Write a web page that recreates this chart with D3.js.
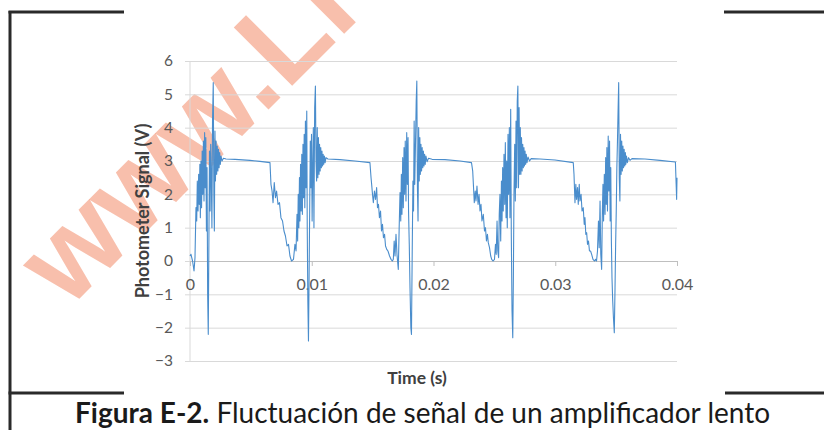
<!DOCTYPE html>
<html>
<head>
<meta charset="utf-8">
<script src="https://cdn.jsdelivr.net/npm/d3@7"></script>
<style>
  html, body { margin: 0; padding: 0; background: #fff; }
  svg { display: block; }
</style>
</head>
<body>
<script>
// ---- Data (time in ms, signal in V) ----
const cycle1 = [[0,0.15],[0.08,0.2],[0.21,0.0],[0.33,-0.3],[0.41,0.1],[0.49,1.6],[0.55,1.2],[0.60,2.4],[0.66,1.5],[0.71,2.6],[0.76,1.7],[0.81,2.9],[0.85,1.3],[0.90,3.0],[0.95,1.6],[1.00,3.3],[1.05,2.0],[1.10,3.6],[1.15,1.8],[1.20,3.85],[1.25,2.2],[1.30,3.7],[1.35,0.9],[1.40,2.8],[1.45,-1.0],[1.50,-2.2],[1.55,0.5],[1.60,3.3],[1.65,1.5],[1.70,3.5],[1.75,2.5],[1.80,1.0],[1.85,4.2],[1.91,5.35],[1.96,2.0],[2.00,0.9],[2.05,3.9],[2.09,2.4],[2.14,3.6],[2.19,2.6],[2.24,3.45],[2.29,2.7],[2.34,3.35],[2.39,2.8],[2.44,3.25],[2.49,2.9],[2.55,3.15],[2.63,3.0],[2.75,3.08],[2.96,3.06],[3.70,3.05],[4.93,3.02],[5.75,2.99],[6.57,2.95],[6.65,2.3],[6.74,2.1],[6.82,1.75],[6.92,2.35],[7.02,1.9],[7.11,2.1],[7.23,1.7],[7.35,1.75],[7.47,1.3],[7.60,1.2],[7.72,0.9],[7.84,0.75],[7.97,0.45],[8.09,0.5],[8.21,0.15],[8.34,0.0],[8.50,0.05],[8.62,0.5]];
const cycle2 = [[8.71,0.3],[8.79,1.4],[8.84,0.6],[8.89,2.0],[8.94,1.0],[8.99,2.5],[9.03,1.2],[9.08,2.9],[9.13,1.5],[9.18,3.2],[9.23,1.4],[9.28,3.5],[9.33,1.9],[9.38,3.8],[9.43,1.6],[9.48,4.2],[9.53,2.2],[9.59,4.5],[9.63,1.0],[9.68,-1.2],[9.73,-2.4],[9.78,-0.5],[9.83,1.5],[9.88,3.6],[9.93,2.2],[9.98,3.8],[10.03,1.2],[10.08,2.8],[10.13,4.0],[10.18,1.0],[10.24,4.6],[10.30,5.25],[10.35,3.0],[10.40,2.4],[10.45,4.0],[10.50,2.5],[10.55,3.7],[10.60,2.6],[10.64,3.5],[10.69,2.7],[10.74,3.4],[10.79,2.8],[10.84,3.3],[10.89,2.85],[10.94,3.2],[10.99,2.9],[11.04,3.15],[11.10,2.95],[11.17,3.1],[11.33,3.06],[12.32,3.04],[13.55,3.0],[14.78,2.95],[14.87,2.5],[14.92,2.3],[14.99,2.0],[15.06,1.75],[15.15,2.1],[15.24,1.85],[15.33,2.2],[15.40,1.6],[15.48,1.7],[15.56,1.3],[15.65,1.5],[15.73,0.9],[15.81,1.1],[15.89,0.7],[15.98,0.8],[16.06,0.45],[16.16,0.35],[16.26,0.3],[16.39,0.15],[16.51,0.05],[16.62,0.0],[16.70,0.05],[16.77,0.6],[16.84,0.15],[16.92,0.8],[17.00,0.2],[17.11,-0.25]];
const cycle3 = [[17.18,1.0],[17.25,2.05],[17.31,1.2],[17.36,2.6],[17.41,1.4],[17.47,3.1],[17.52,1.6],[17.58,3.4],[17.63,2.0],[17.68,3.6],[17.74,1.8],[17.80,3.85],[17.85,2.3],[17.91,3.7],[17.95,1.5],[18.01,0.5],[18.07,-0.8],[18.14,-2.0],[18.19,-2.2],[18.25,0.2],[18.31,2.4],[18.36,1.5],[18.41,4.2],[18.46,2.3],[18.52,3.5],[18.58,4.8],[18.63,5.4],[18.68,2.2],[18.73,1.2],[18.78,4.0],[18.83,2.4],[18.88,3.7],[18.92,2.6],[18.97,3.5],[19.02,2.7],[19.07,3.4],[19.12,2.8],[19.17,3.3],[19.22,2.85],[19.27,3.2],[19.32,2.9],[19.38,3.15],[19.47,2.98],[19.59,3.08],[19.88,3.05],[20.94,3.04],[22.18,3.0],[23.12,2.95],[23.22,2.7],[23.29,2.2],[23.35,1.75],[23.43,2.1],[23.49,1.8],[23.57,2.25],[23.66,1.7],[23.74,2.0],[23.82,1.5],[23.90,1.7],[23.98,1.2],[24.09,1.4],[24.19,0.9],[24.27,1.0],[24.35,0.6],[24.43,0.8],[24.50,0.55],[24.60,0.4],[24.70,0.15],[24.78,0.05],[24.89,0.0],[25.01,0.05],[25.09,0.5],[25.15,0.2],[25.22,1.2],[25.28,0.3],[25.35,0.1]];
const cycle4 = [[25.40,1.4],[25.46,2.0],[25.52,0.6],[25.58,2.4],[25.63,1.2],[25.68,2.8],[25.73,1.5],[25.79,3.2],[25.85,1.7],[25.90,3.55],[25.96,1.3],[26.01,3.0],[26.06,1.0],[26.12,3.8],[26.17,2.0],[26.23,4.0],[26.28,1.3],[26.34,4.55],[26.39,0.8],[26.45,-1.5],[26.51,-2.3],[26.56,-0.5],[26.61,2.0],[26.67,3.5],[26.72,1.8],[26.78,4.2],[26.83,2.2],[26.88,4.8],[26.93,5.25],[26.98,2.2],[27.03,4.6],[27.08,2.6],[27.13,4.0],[27.18,2.6],[27.23,3.7],[27.28,2.7],[27.33,3.5],[27.38,2.8],[27.43,3.4],[27.47,2.85],[27.52,3.3],[27.57,2.9],[27.62,3.2],[27.68,2.95],[27.76,3.12],[27.89,3.0],[28.01,3.07],[28.75,3.06],[29.98,3.03],[31.48,2.95],[31.54,2.6],[31.62,1.75],[31.69,2.3],[31.75,1.85],[31.83,2.2],[31.89,1.7],[31.97,2.3],[32.03,1.8],[32.12,2.0],[32.20,1.5],[32.30,1.6],[32.38,1.1],[32.44,1.3],[32.51,0.8],[32.58,0.85],[32.65,0.5],[32.73,0.6],[32.81,0.3],[32.90,0.3],[32.99,0.2],[33.10,0.05],[33.22,0.0],[33.31,0.05],[33.39,0.0],[33.47,0.3],[33.55,1.2],[33.61,0.4],[33.68,1.8],[33.74,0.2],[33.81,-0.25]];
const cycle5 = [[33.87,1.5],[33.92,2.3],[33.97,1.2],[34.03,2.6],[34.09,1.4],[34.14,3.1],[34.19,1.7],[34.24,3.4],[34.29,1.5],[34.35,3.75],[34.40,2.1],[34.46,3.6],[34.51,1.2],[34.56,2.8],[34.61,0.6],[34.66,-0.5],[34.72,-1.2],[34.78,-1.7],[34.85,-2.15],[34.91,-0.8],[34.96,0.5],[35.01,1.5],[35.06,2.8],[35.11,3.6],[35.16,4.5],[35.21,5.35],[35.26,2.5],[35.31,1.8],[35.36,3.8],[35.41,2.6],[35.46,3.6],[35.51,2.7],[35.56,3.45],[35.61,2.8],[35.66,3.35],[35.71,2.85],[35.76,3.25],[35.80,2.9],[35.85,3.15],[35.92,2.95],[36.02,3.1],[36.14,3.02],[36.30,3.07],[37.37,3.06],[38.60,3.02],[39.87,2.97],[39.93,2.3],[39.97,1.85],[40.00,2.5]];

const xTicks = [0, 0.01, 0.02, 0.03, 0.04];
const xTickLabels = ["0", "0.01", "0.02", "0.03", "0.04"];
const yTicks = [-3, -2, -1, 0, 1, 2, 3, 4, 5, 6];
const xTitle = "Time (s)";
const yTitle = "Photometer Signal (V)";
const captionBold = "Figura E-2.";
const captionRest = " Fluctuación de señal de un amplificador lento";
const watermark = "www.Li";

// ---- Drawing ----
const W = 824, H = 430;
const svg = d3.select("body").append("svg").attr("width", W).attr("height", H);
svg.append("rect").attr("width", W).attr("height", H).attr("fill", "#fff");

// watermark (behind chart)
svg.append("text")
  .attr("transform", "translate(68,310) rotate(-45)")
  .attr("font-family", "Liberation Sans, Arial, sans-serif")
  .attr("font-weight", "bold")
  .attr("font-size", 120)
  .attr("fill", "#f28a68")
  .attr("fill-opacity", 0.55)
  .text(watermark);

const x = d3.scaleLinear().domain([0, 0.04]).range([190, 677]);
const y = d3.scaleLinear().domain([-3, 6]).range([361, 61]);

const font = "Lato, Calibri, 'Open Sans', sans-serif";

// gridlines
const grid = svg.append("g").attr("transform", "translate(185,0)")
  .call(d3.axisLeft(y).tickValues(yTicks).tickSize(-(677 - 185)).tickFormat(""));
grid.select(".domain").remove();
grid.selectAll(".tick line").attr("stroke", "#d9d9d9").attr("stroke-width", 1);

// vertical axis line
svg.append("line").attr("x1", 190).attr("x2", 190).attr("y1", y(6)).attr("y2", y(-3))
  .attr("stroke", "#d9d9d9");

// y tick labels
const yAxis = svg.append("g").attr("transform", "translate(185,0)")
  .call(d3.axisLeft(y).tickValues(yTicks).tickSize(0).tickPadding(12).tickFormat(d3.format("d")));
yAxis.select(".domain").remove();
yAxis.selectAll("text").attr("font-family", font).attr("font-size", 15.5).attr("fill", "#595959");

// x axis at y=0
const xAxis = svg.append("g").attr("transform", `translate(0,${y(0)})`)
  .call(d3.axisBottom(x).tickValues(xTicks).tickSize(5).tickPadding(13)
    .tickFormat((d, i) => xTickLabels[i]));
xAxis.select(".domain").attr("stroke", "#bfbfbf");
xAxis.selectAll(".tick line").attr("stroke", "#bfbfbf");
xAxis.selectAll("text").attr("font-family", font).attr("font-size", 16).attr("fill", "#595959");

// signal line
const line = d3.line().x(d => x(d[0] / 1000)).y(d => y(d[1]));
const series = [cycle1, cycle2, cycle3, cycle4, cycle5].flat();
svg.append("path").datum(series)
  .attr("d", line)
  .attr("fill", "none")
  .attr("stroke", "#4a8dcc")
  .attr("stroke-width", 1.1)
  .attr("stroke-linejoin", "round");

// axis titles
svg.append("text")
  .attr("transform", `translate(149,${(y(6) + y(-3)) / 2}) rotate(-90)`)
  .attr("text-anchor", "middle")
  .attr("font-family", font).attr("font-weight", "bold").attr("font-size", 18)
  .attr("fill", "#404040")
  .text(yTitle);
svg.append("text")
  .attr("x", 417).attr("y", 384)
  .attr("text-anchor", "middle")
  .attr("font-family", font).attr("font-weight", "bold").attr("font-size", 17.5)
  .attr("fill", "#404040")
  .text(xTitle);

// frame lines
const frame = svg.append("g").attr("stroke", "#2a2a2a").attr("stroke-width", 3).attr("fill", "none");
frame.append("line").attr("x1", 10).attr("x2", 10).attr("y1", 11).attr("y2", 430);
frame.append("line").attr("x1", 8.5).attr("x2", 124).attr("y1", 12).attr("y2", 12);
frame.append("line").attr("x1", 724).attr("x2", 824).attr("y1", 12).attr("y2", 12);
frame.append("line").attr("x1", 8.5).attr("x2", 124).attr("y1", 393).attr("y2", 393);
frame.append("line").attr("x1", 725).attr("x2", 824).attr("y1", 393).attr("y2", 393);

// caption
const cap = svg.append("text")
  .attr("x", 75).attr("y", 423)
  .attr("font-family", font).attr("font-size", 28).attr("fill", "#1a1a1a");
cap.append("tspan").attr("font-weight", "bold").text(captionBold);
cap.append("tspan").text(captionRest);
</script>
</body>
</html>
